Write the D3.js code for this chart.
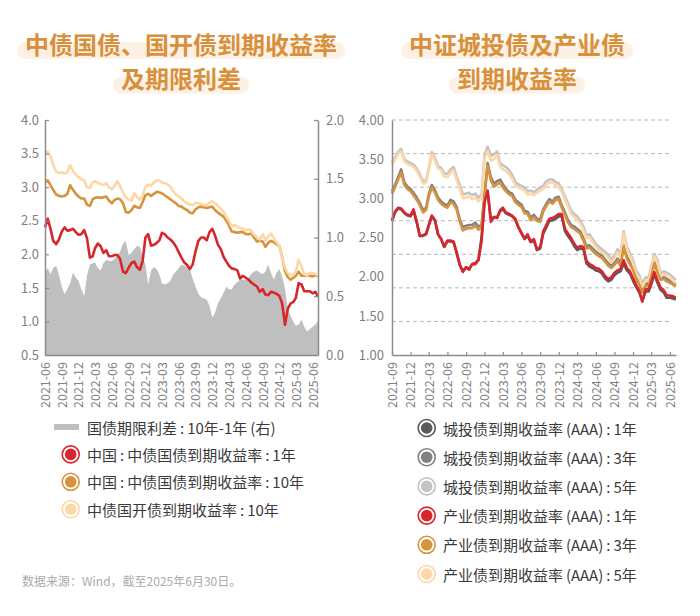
<!DOCTYPE html>
<html>
<head>
<meta charset="utf-8">
<script src="https://cdn.jsdelivr.net/npm/d3@7"></script>
<style>
  body { margin: 0; background: #fff; }
  text { font-family: "Noto Sans CJK SC", "Noto Sans", sans-serif; }
</style>
</head>
<body>
<svg id="chart" width="700" height="616"></svg>
<script>
// ---- data: left chart (semi-monthly samples, 2021-06-01 .. 2025-06-30) ----
var leftStart = "2021-06-01", leftEnd = "2025-06-30";
var leftTicks = ["2021-06","2021-09","2021-12","2022-03","2022-06","2022-09","2022-12","2023-03",
  "2023-06","2023-09","2023-12","2024-03","2024-06","2024-09","2024-12","2025-03","2025-06"];

// 国债期限利差 10Y-1Y (right axis)
var spread = [0.70,0.74,0.69,0.74,0.76,0.68,0.58,0.52,0.56,0.61,
  0.70,0.66,0.63,0.56,0.50,0.67,0.77,0.78,0.79,0.74,
  0.72,0.78,0.81,0.80,0.80,0.82,0.85,0.88,0.95,0.97,
  0.85,0.87,0.90,0.93,0.92,0.84,0.77,0.60,0.72,0.75,
  0.73,0.68,0.61,0.60,0.61,0.63,0.68,0.71,0.74,0.77,
  0.76,0.75,0.73,0.65,0.58,0.52,0.49,0.48,0.47,0.42,
  0.32,0.36,0.44,0.48,0.53,0.58,0.56,0.56,0.60,0.62,
  0.64,0.64,0.64,0.66,0.69,0.71,0.72,0.70,0.69,0.71,
  0.77,0.70,0.64,0.70,0.73,0.67,0.56,0.40,0.33,0.28,
  0.25,0.26,0.30,0.24,0.20,0.22,0.24,0.26,0.29];
// 中债国债 1Y
var cgb1y = [2.40,2.53,2.38,2.20,2.15,2.22,2.34,2.40,2.35,2.36,
  2.38,2.33,2.29,2.30,2.36,2.24,1.95,1.97,2.09,2.16,
  2.12,2.02,2.06,1.97,1.97,1.99,1.99,1.93,1.74,1.72,
  1.80,1.87,1.89,1.81,1.77,1.90,2.25,2.30,2.13,2.14,
  2.17,2.21,2.32,2.30,2.25,2.22,2.18,2.12,2.03,1.95,
  1.88,1.84,1.78,1.85,2.05,2.20,2.25,2.25,2.21,2.33,
  2.38,2.28,2.14,2.08,1.96,1.89,1.83,1.79,1.78,1.76,
  1.64,1.68,1.65,1.62,1.58,1.55,1.52,1.44,1.48,1.40,
  1.39,1.44,1.43,1.41,1.38,1.27,0.95,1.19,1.27,1.29,
  1.35,1.57,1.55,1.45,1.45,1.45,1.42,1.44,1.37];
// 中债国债 10Y
var cgb10y = [3.08,3.10,3.03,2.96,2.89,2.87,2.86,2.87,2.90,3.03,
  2.96,2.90,2.86,2.83,2.83,2.74,2.72,2.82,2.84,2.85,
  2.84,2.85,2.86,2.80,2.76,2.81,2.83,2.82,2.76,2.63,
  2.62,2.66,2.72,2.70,2.69,2.78,2.88,2.90,2.87,2.90,
  2.93,2.92,2.91,2.88,2.85,2.82,2.79,2.76,2.72,2.71,
  2.68,2.66,2.62,2.61,2.67,2.70,2.71,2.70,2.69,2.70,
  2.71,2.66,2.62,2.59,2.56,2.50,2.43,2.34,2.33,2.32,
  2.33,2.33,2.30,2.30,2.31,2.25,2.19,2.20,2.19,2.11,
  2.17,2.20,2.18,2.15,2.13,1.96,1.75,1.66,1.62,1.65,
  1.68,1.74,1.68,1.68,1.69,1.68,1.67,1.69,1.67];
// 中债国开债 10Y
var cdb10y = [3.52,3.53,3.46,3.33,3.23,3.21,3.22,3.20,3.22,3.33,
  3.24,3.19,3.15,3.12,3.10,3.00,2.99,3.07,3.09,3.06,
  3.05,3.03,3.06,3.00,2.97,3.02,3.09,3.01,2.92,2.85,
  2.81,2.80,2.91,2.85,2.81,2.88,3.00,3.04,3.02,3.07,
  3.10,3.10,3.07,3.06,3.04,3.01,2.94,2.89,2.86,2.83,
  2.79,2.76,2.74,2.73,2.77,2.76,2.75,2.73,2.74,2.77,
  2.79,2.76,2.72,2.68,2.63,2.56,2.50,2.41,2.44,2.41,
  2.39,2.38,2.36,2.37,2.35,2.29,2.25,2.22,2.30,2.21,
  2.26,2.31,2.24,2.18,2.13,1.95,1.80,1.72,1.69,1.69,
  1.74,1.92,1.82,1.70,1.69,1.72,1.72,1.71,1.68];

// ---- data: right chart (semi-monthly samples, 2021-09-01 .. 2025-06-30) ----
var rightStart = "2021-09-01", rightEnd = "2025-06-30";
var rightTicks = ["2021-09","2021-12","2022-03","2022-06","2022-09","2022-12","2023-03","2023-06",
  "2023-09","2023-12","2024-03","2024-06","2024-09","2024-12","2025-03","2025-06"];

var chengtou1y = [2.71,2.82,2.87,2.86,2.81,2.78,2.77,2.84,2.69,2.52,
  2.52,2.54,2.65,2.77,2.71,2.54,2.48,2.38,2.45,2.45,
  2.44,2.31,2.15,2.07,2.12,2.10,2.16,2.17,2.22,2.50,
  2.98,3.08,2.74,2.76,2.76,2.84,2.86,2.81,2.79,2.77,
  2.73,2.63,2.55,2.48,2.52,2.44,2.46,2.34,2.36,2.55,
  2.63,2.71,2.72,2.74,2.77,2.77,2.58,2.52,2.46,2.39,
  2.34,2.36,2.35,2.17,2.13,2.11,2.08,2.07,2.04,1.98,
  1.94,1.96,2.02,2.05,2.07,2.17,2.08,2.04,1.95,1.87,
  1.80,1.69,1.81,1.81,1.90,2.03,1.92,1.83,1.80,1.73,
  1.73,1.72,1.71];
var chengtou3y = [3.09,3.17,3.27,3.37,3.20,3.15,3.12,3.07,3.01,2.94,
  2.85,2.88,3.05,3.17,3.10,3.01,2.96,2.93,2.91,2.98,
  2.96,2.89,2.73,2.63,2.65,2.66,2.66,2.69,2.64,2.66,
  3.06,3.45,3.27,3.19,3.22,3.24,3.18,3.12,3.08,3.06,
  2.98,2.95,2.92,2.84,2.83,2.75,2.79,2.74,2.73,2.86,
  2.93,2.99,2.96,3.01,3.02,2.91,2.82,2.72,2.66,2.64,
  2.61,2.58,2.49,2.39,2.40,2.36,2.32,2.29,2.27,2.22,
  2.17,2.14,2.18,2.23,2.17,2.40,2.26,2.19,2.12,2.00,
  1.93,1.83,1.91,1.91,2.03,2.19,2.08,1.99,2.00,1.97,
  1.95,1.93,1.90];
var chengtou5y = [3.46,3.52,3.59,3.63,3.50,3.47,3.45,3.43,3.38,3.31,
  3.22,3.23,3.38,3.59,3.51,3.41,3.39,3.32,3.31,3.37,
  3.40,3.28,3.17,3.05,3.06,3.07,3.04,3.06,3.01,3.05,
  3.55,3.66,3.54,3.56,3.60,3.45,3.42,3.40,3.36,3.30,
  3.21,3.18,3.16,3.14,3.09,3.10,3.08,3.11,3.14,3.16,
  3.22,3.24,3.24,3.21,3.19,3.12,3.02,2.94,2.84,2.80,
  2.77,2.72,2.64,2.53,2.54,2.48,2.42,2.38,2.35,2.32,
  2.28,2.22,2.27,2.35,2.29,2.58,2.38,2.30,2.21,2.08,
  2.02,1.91,1.99,1.99,2.12,2.29,2.21,2.04,2.07,2.05,
  2.03,1.99,1.96];
var industry1y = [2.72,2.83,2.88,2.87,2.82,2.79,2.78,2.86,2.70,2.52,
  2.53,2.55,2.66,2.78,2.72,2.54,2.48,2.38,2.46,2.46,
  2.45,2.31,2.15,2.06,2.12,2.09,2.16,2.16,2.21,2.45,
  2.95,3.10,2.70,2.76,2.75,2.85,2.88,2.82,2.80,2.78,
  2.74,2.64,2.56,2.49,2.54,2.45,2.48,2.35,2.38,2.58,
  2.66,2.74,2.75,2.77,2.80,2.80,2.61,2.55,2.49,2.42,
  2.37,2.39,2.38,2.20,2.16,2.14,2.11,2.10,2.07,2.01,
  1.97,1.99,2.05,2.08,2.10,2.21,2.11,2.07,1.98,1.90,
  1.82,1.68,1.84,1.84,1.93,2.06,1.95,1.86,1.83,1.76,
  1.76,1.75,1.73];
var industry3y = [3.06,3.14,3.24,3.33,3.17,3.12,3.09,3.04,2.98,2.91,
  2.82,2.85,3.02,3.14,3.07,2.98,2.93,2.90,2.88,2.95,
  2.93,2.86,2.70,2.59,2.61,2.62,2.62,2.65,2.60,2.62,
  3.02,3.42,3.23,3.15,3.18,3.20,3.14,3.09,3.05,3.03,
  2.95,2.92,2.89,2.81,2.80,2.72,2.76,2.71,2.70,2.83,
  2.90,2.96,2.93,2.98,2.99,2.88,2.79,2.69,2.63,2.61,
  2.58,2.55,2.46,2.36,2.37,2.33,2.29,2.26,2.24,2.19,
  2.14,2.11,2.15,2.20,2.14,2.38,2.23,2.16,2.09,1.97,
  1.90,1.80,1.88,1.88,2.00,2.17,2.05,1.96,1.97,1.94,
  1.92,1.90,1.87];
var industry5y = [3.43,3.49,3.56,3.60,3.47,3.44,3.42,3.40,3.35,3.28,
  3.19,3.20,3.35,3.56,3.48,3.38,3.36,3.28,3.27,3.33,
  3.36,3.24,3.12,3.00,3.01,3.02,2.99,3.01,2.96,3.00,
  3.50,3.60,3.48,3.50,3.55,3.40,3.37,3.35,3.31,3.25,
  3.17,3.14,3.12,3.10,3.05,3.06,3.04,3.07,3.10,3.12,
  3.18,3.20,3.20,3.17,3.15,3.08,2.98,2.90,2.80,2.76,
  2.73,2.68,2.60,2.49,2.50,2.44,2.38,2.34,2.31,2.28,
  2.24,2.18,2.23,2.31,2.25,2.55,2.34,2.26,2.17,2.04,
  1.98,1.87,1.95,1.95,2.08,2.26,2.17,2.00,2.03,2.01,
  1.99,1.95,1.92];

// legend labels (thin spaces round the colons and before brackets, as in the source)
var leftLegend = ["国债期限利差\u2009:\u200910年-1年\u2009(右)", "中国\u2009:\u2009中债国债到期收益率\u2009:\u20091年",
  "中国\u2009:\u2009中债国债到期收益率\u2009:\u200910年", "中债国开债到期收益率\u2009:\u200910年"];
var rightLegend = ["城投债到期收益率\u2009(AAA)\u2009:\u20091年", "城投债到期收益率\u2009(AAA)\u2009:\u20093年",
  "城投债到期收益率\u2009(AAA)\u2009:\u20095年", "产业债到期收益率\u2009(AAA)\u2009:\u20091年",
  "产业债到期收益率\u2009(AAA)\u2009:\u20093年", "产业债到期收益率\u2009(AAA)\u2009:\u20095年"];

// colours
var red = "#d9262c", orange = "#d6923c", peach = "#fed7a6", area = "#bfbfbf";
var darkGray = "#5a5a5a", midGray = "#828282", lightGray = "#c4c4c4";
var axisColor = "#8c8c8c", labelColor = "#808080";

var svg = d3.select("#chart");
var day = d3.utcParse("%Y-%m-%d"), month = d3.utcParse("%Y-%m");

// sample dates: 1st and 16th of every month, plus the last day
function halfMonthDates(start, end) {
  var out = [];
  d3.utcMonth.range(start, d3.utcMonth.offset(d3.utcMonth.floor(end), 1)).forEach(function(m) {
    out.push(m, d3.utcDay.offset(m, 15));
  });
  out.push(end);
  return out;
}
function zip(dates, vals) {
  return vals.map(function(v, i) { return {date: dates[i], v: v}; });
}

// ---- titles ----
function title(lines, cx) {
  lines.forEach(function(t, k) {
    var cy = 43 + k * 34.5;
    var pill = svg.append("rect");
    var txt = svg.append("text")
        .attr("x", cx).attr("y", cy)
        .attr("text-anchor", "middle").attr("dominant-baseline", "central")
        .attr("font-size", 24).attr("font-weight", 700).attr("fill", "#d8903b")
        .text(t);
    var b = txt.node().getBBox();
    pill.attr("x", b.x - 8).attr("width", b.width + 16)
        .attr("y", cy - 1).attr("height", 17).attr("rx", 8.5)
        .attr("fill", "#fcf1e4");
  });
}
title(["中债国债、国开债到期收益率", "及期限利差"], 181);
title(["中证城投债及产业债", "到期收益率"], 517);

function styleAxis(g) {
  g.attr("font-size", 13).attr("font-family", null);
  g.selectAll("text").attr("fill", labelColor);
  g.selectAll("path.domain").attr("stroke", axisColor).attr("stroke-width", 1.5);
  g.selectAll(".tick line").attr("stroke", axisColor).attr("stroke-width", 1.2);
}
function rotateLabels(g) {
  g.selectAll(".tick text")
      .attr("transform", "rotate(-90)")
      .attr("text-anchor", "end")
      .attr("x", -7).attr("y", 0).attr("dy", "0.35em")
      .attr("font-size", 12.5);
}

// ---- left chart ----
var datesL = halfMonthDates(day(leftStart), day(leftEnd));
var xL = d3.scaleUtc().domain([day(leftStart), day(leftEnd)]).range([45, 318]);
var yL = d3.scaleLinear().domain([0.5, 4]).range([355, 120]);
var yS = d3.scaleLinear().domain([0, 2]).range([355, 120]);

svg.append("path")
    .datum(zip(datesL, spread))
    .attr("fill", area)
    .attr("d", d3.area().x(function(d) { return xL(d.date); })
        .y0(yS(0)).y1(function(d) { return yS(d.v); }));

var lineL = d3.line().x(function(d) { return xL(d.date); }).y(function(d) { return yL(d.v); });
[[cgb1y, red], [cgb10y, orange], [cdb10y, peach]].forEach(function(s) {
  svg.append("path").datum(zip(datesL, s[0]))
      .attr("fill", "none").attr("stroke", s[1]).attr("stroke-width", 2.6)
      .attr("stroke-linejoin", "round").attr("d", lineL);
});

svg.append("g").attr("transform", "translate(45,0)")
    .call(d3.axisLeft(yL).tickValues(d3.range(0.5, 4.01, 0.5)).tickFormat(d3.format(".1f"))
        .tickSize(-4).tickSizeOuter(0).tickPadding(6))
    .call(styleAxis);
svg.append("g").attr("transform", "translate(318,0)")
    .call(d3.axisRight(yS).tickValues(d3.range(0, 2.01, 0.5)).tickFormat(d3.format(".1f"))
        .tickSize(-4).tickSizeOuter(0).tickPadding(8))
    .call(styleAxis);
svg.append("g").attr("transform", "translate(0,355)")
    .call(d3.axisBottom(xL).tickValues(leftTicks.map(month)).tickFormat(d3.utcFormat("%Y-%m"))
        .tickSize(0).tickSizeOuter(0))
    .call(styleAxis).call(rotateLabels);

// ---- right chart ----
var datesR = halfMonthDates(day(rightStart), day(rightEnd));
var xR = d3.scaleUtc().domain([day(rightStart), day("2025-07-01")]).range([392, 676]);
var yR = d3.scaleLinear().domain([1, 4]).range([355, 120]);

// dashed grid (7 even bands, as in the source chart)
svg.append("g").selectAll("line")
    .data(d3.range(1, 8))
    .join("line")
    .attr("x1", 392).attr("x2", 670)
    .attr("y1", function(k) { return 355 - k * (355 - 120) / 7; })
    .attr("y2", function(k) { return 355 - k * (355 - 120) / 7; })
    .attr("stroke", "#b8b8b8").attr("stroke-width", 1).attr("stroke-dasharray", "4,3");

var lineR = d3.line().x(function(d) { return xR(d.date); }).y(function(d) { return yR(d.v); });
[[chengtou5y, lightGray], [chengtou3y, midGray], [chengtou1y, darkGray],
 [industry5y, peach], [industry3y, orange], [industry1y, red]].forEach(function(s) {
  svg.append("path").datum(zip(datesR, s[0]))
      .attr("fill", "none").attr("stroke", s[1]).attr("stroke-width", 2.6)
      .attr("stroke-linejoin", "round").attr("d", lineR);
});

svg.append("g").attr("transform", "translate(392,0)")
    .call(d3.axisLeft(yR).tickValues(d3.range(1, 4.01, 0.5)).tickFormat(d3.format(".2f"))
        .tickSize(0).tickSizeOuter(0).tickPadding(8))
    .call(styleAxis);
svg.append("g").attr("transform", "translate(0,355)")
    .call(d3.axisBottom(xR).tickValues(rightTicks.map(month)).tickFormat(d3.utcFormat("%Y-%m"))
        .tickSize(-3).tickSizeOuter(0))
    .call(styleAxis).call(rotateLabels);

// ---- legends ----
function marker(cx, cy, color) {
  svg.append("circle").attr("cx", cx).attr("cy", cy).attr("r", 8.5)
      .attr("fill", "#fff").attr("stroke", color).attr("stroke-width", 1.6);
  svg.append("circle").attr("cx", cx).attr("cy", cy).attr("r", 5.8).attr("fill", color);
}
function legendText(x, y, t) {
  svg.append("text").attr("x", x).attr("y", y).attr("dominant-baseline", "central")
      .attr("font-size", 15).attr("fill", "#3a3a3a").text(t);
}
var leftColors = [area, red, orange, peach];
leftLegend.forEach(function(t, i) {
  var cy = 427 + i * 27.4;
  if (i === 0) svg.append("rect").attr("x", 54).attr("y", cy - 3).attr("width", 25).attr("height", 6).attr("fill", area);
  else marker(70.7, cy, leftColors[i]);
  legendText(87, cy, t);
});
var rightColors = [darkGray, midGray, lightGray, red, orange, peach];
rightLegend.forEach(function(t, i) {
  var cy = 428 + i * 29.2;
  marker(426.7, cy, rightColors[i]);
  legendText(443, cy, t);
});

svg.append("text").attr("x", 22).attr("y", 580).attr("dominant-baseline", "central")
    .attr("font-size", 12).attr("fill", "#ababab")
    .text("数据来源：Wind，截至2025年6月30日。");
</script>
</body>
</html>
